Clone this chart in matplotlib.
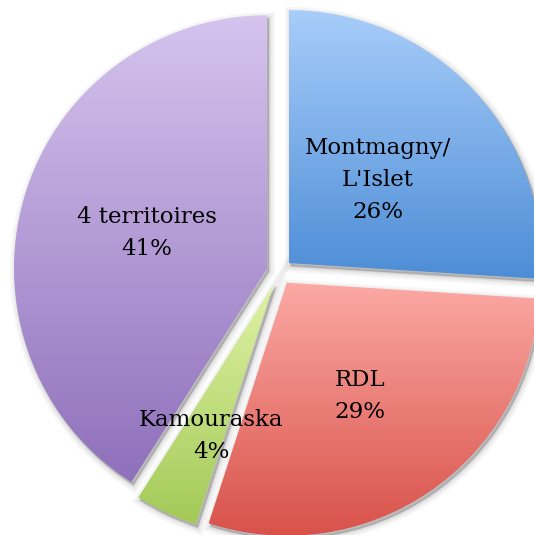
import numpy as np
import matplotlib.pyplot as plt
from matplotlib.colors import LinearSegmentedColormap
from matplotlib.patches import Wedge

labels = ["Montmagny/\nL'Islet", "RDL", "Kamouraska", "4 territoires"]
values = [26, 29, 4, 41]
top_colors = ["#a8cdfa", "#fca9a4", "#e0f3a6", "#d5c4ee"]
bottom_colors = ["#4d8dd6", "#d8524a", "#a3c957", "#8f70bb"]

W, H = 534, 535
fig = plt.figure(figsize=(W / 100, H / 100), dpi=100)
ax = fig.add_axes([0, 0, 1, 1])

# pie in pixel-like data coords (y up); explode is in data units here
cx, cy, R = 279.5, 263, 253
wedges, _ = ax.pie(values, explode=[13] * len(values), startangle=90,
                   counterclock=False, radius=R, center=(cx, cy), frame=True)

grad = np.linspace(0, 1, 256).reshape(-1, 1)
for w, top, bot in zip(wedges, top_colors, bottom_colors):
    # soft drop shadow
    c = w.center
    for lw, a in [(9, 0.03), (6, 0.04), (3, 0.06), (1, 0.08)]:
        ax.add_patch(Wedge((c[0] + 2, c[1] - 3), w.r, w.theta1, w.theta2,
                           facecolor=(0, 0, 0, a), edgecolor=(0, 0, 0, a),
                           linewidth=lw, zorder=0.5))
    w.set_facecolor("none")
    w.set_linewidth(0)
    w.set_zorder(2)
    ext = w.get_path().get_extents()
    cmap = LinearSegmentedColormap.from_list("g", [bot, top])
    im = ax.imshow(grad, cmap=cmap, origin="lower", aspect="auto",
                   extent=(ext.x0, ext.x1, ext.y0, ext.y1),
                   interpolation="bilinear", zorder=1)
    im.set_clip_path(w)

# label centres, in image pixels from top-left
label_pos = [(378, 180), (360, 396), (211, 436), (147, 233)]
for lab, v, (x, y) in zip(labels, values, label_pos):
    ax.text(x, H - y, f"{lab}\n{v}%", ha="center", va="center",
            multialignment="center", fontsize=16.5, family="DejaVu Serif",
            linespacing=1.6, zorder=5)

ax.set_xlim(0, W)
ax.set_ylim(0, H)
ax.set_aspect("auto")
ax.axis("off")

fig.savefig("out.png", dpi=100)
